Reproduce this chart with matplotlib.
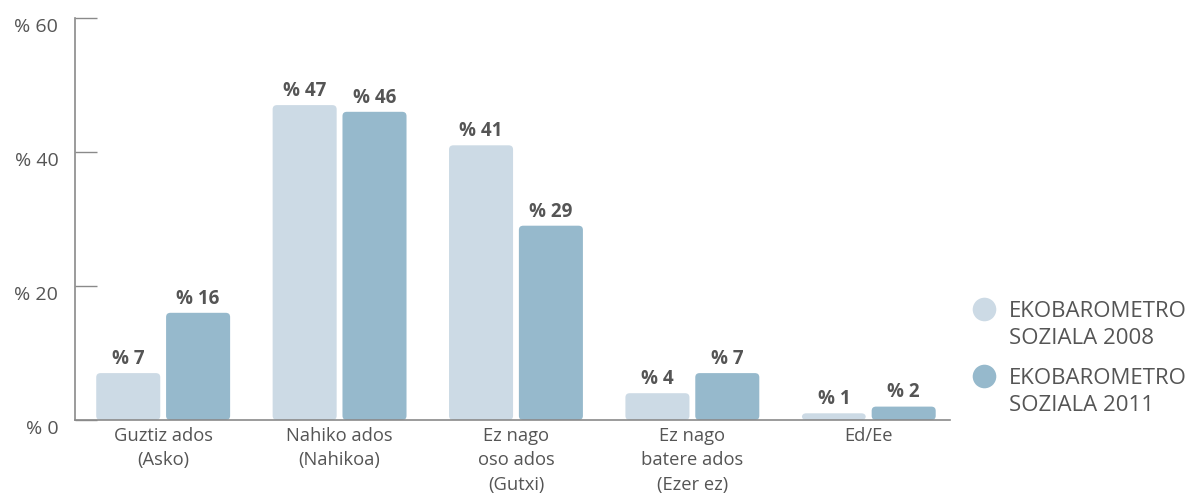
import numpy as np
import matplotlib
matplotlib.use('Agg')
from matplotlib import pyplot as plt
from matplotlib.patches import FancyBboxPatch

# DATA
categories = ['Guztiz ados\n(Asko)', 'Nahiko ados\n(Nahikoa)', 'Ez nago\noso ados\n(Gutxi)',
              'Ez nago\nbatere ados\n(Ezer ez)', 'Ed/Ee']
values_2008 = [7, 47, 41, 4, 1]
values_2011 = [16, 46, 29, 7, 2]
series_names = ['EKOBAROMETRO\nSOZIALA 2008', 'EKOBAROMETRO\nSOZIALA 2011']
y_ticks = [0, 20, 40, 60]

# STYLE
COLORS = ['#ccdae5', '#96b9cc']
TEXT = '#555555'
AXIS = '#8a8a8a'
BAR_W = 0.363
OFFSET = 0.198

plt.rcParams['font.family'] = ['Open Sans', 'DejaVu Sans']


def rounded_bars(ax, bars, color):
    # swap the square bars for slightly rounded ones
    for bar in bars:
        x, y = bar.get_x(), bar.get_y()
        w, h = bar.get_width(), bar.get_height()
        bar.set_visible(False)
        patch = FancyBboxPatch((x, y), w, h, boxstyle='round,pad=0,rounding_size=0.025',
                               mutation_aspect=25, facecolor=color, edgecolor='none')
        ax.add_patch(patch)


def draw_legend(fig):
    # marker sits next to the first line of each label, like the original
    y0 = 1 - 309 / 500
    step = 67 / 500
    for i, (name, color) in enumerate(zip(series_names, COLORS)):
        y = y0 - i * step
        fig.add_artist(plt.Line2D([984 / 1192], [y], marker='o', markersize=17, linestyle='none',
                                  markerfacecolor=color, markeredgecolor='none',
                                  transform=fig.transFigure))
        fig.text(1009 / 1192, y + 8 / 500, name, fontsize=16, color=TEXT, ha='left', va='top',
                 linespacing=1.4)


def main():
    fig = plt.figure(figsize=(11.92, 5), dpi=100)
    ax = fig.add_axes([0.0629, 0.16, 0.734, 0.804])

    x = np.arange(len(categories))
    for vals, off, color in zip([values_2008, values_2011], [-OFFSET, OFFSET], COLORS):
        bars = ax.bar(x + off, vals, BAR_W, color=color)
        rounded_bars(ax, bars, color)
        for xi, v in zip(x + off, vals):
            ax.annotate('% ' + str(v), (xi, v), xytext=(0, 3), textcoords='offset points',
                        ha='center', va='bottom', fontsize=13.5, fontweight='bold', color=TEXT)

    ax.set_xlim(-0.5, 4.46)
    ax.set_ylim(0, 60)

    ax.set_yticks(y_ticks)
    ax.set_yticklabels(['% ' + str(t) for t in y_ticks], fontsize=14, color=TEXT, va='top')
    ax.tick_params(axis='y', direction='in', length=16, width=1, color=AXIS, pad=12)

    ax.set_xticks(x)
    ax.set_xticklabels(categories, fontsize=13.2, color=TEXT, linespacing=1.45)
    ax.tick_params(axis='x', length=0, pad=5)

    for side in ['top', 'right']:
        ax.spines[side].set_visible(False)
    for side in ['left', 'bottom']:
        ax.spines[side].set_color(AXIS)
        ax.spines[side].set_linewidth(1.2)

    draw_legend(fig)

    fig.savefig('out.png', dpi=100)


if __name__ == '__main__':
    main()
